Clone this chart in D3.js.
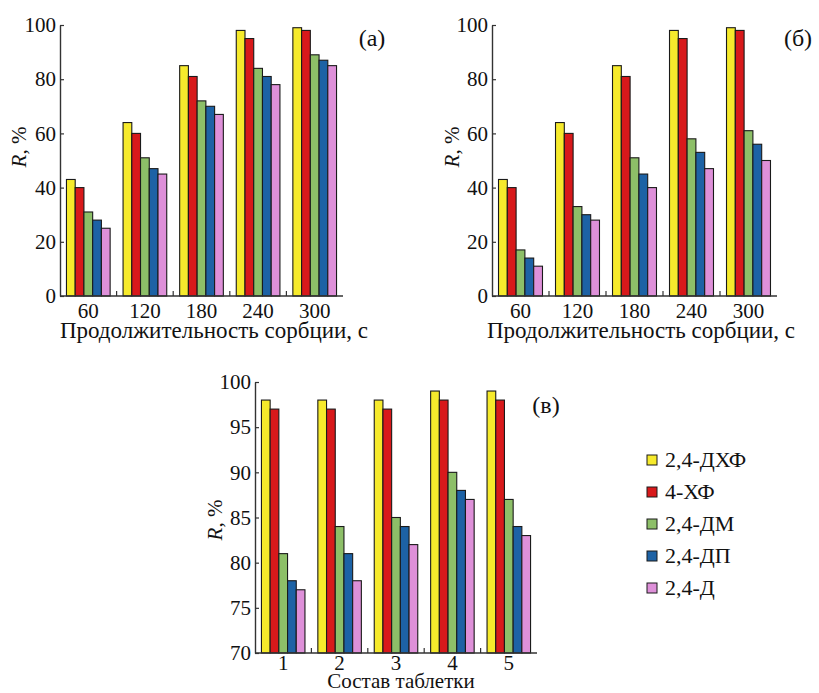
<!DOCTYPE html>
<html>
<head>
<meta charset="utf-8">
<script src="https://cdn.jsdelivr.net/npm/d3@7"></script>
<style>
  html, body { margin: 0; padding: 0; background: #fff; }
  svg { display: block; }
  svg text { font-family: "Liberation Serif", "Tinos", "Times New Roman", Times, "DejaVu Serif", serif !important; fill: #111; }
</style>
</head>
<body>
<svg id="chart" width="819" height="693"></svg>
<script>
// Series (compounds) and their colours
const series = ["2,4-ДХФ", "4-ХФ", "2,4-ДМ", "2,4-ДП", "2,4-Д"];
const colors = ["#f6ea2c", "#d8191b", "#8dbf68", "#1d62a5", "#de90d9"];

// Panels (а) and (б): sorption time, s
const times = ["60", "120", "180", "240", "300"];
const panelA = [
  [43, 64, 85, 98, 99],
  [40, 60, 81, 95, 98],
  [31, 51, 72, 84, 89],
  [28, 47, 70, 81, 87],
  [25, 45, 67, 78, 85]
];
const panelB = [
  [43, 64, 85, 98, 99],
  [40, 60, 81, 95, 98],
  [17, 33, 51, 58, 61],
  [14, 30, 45, 53, 56],
  [11, 28, 40, 47, 50]
];

// Panel (в): tablet composition
const tablets = ["1", "2", "3", "4", "5"];
const panelC = [
  [98, 98, 98, 99, 99],
  [97, 97, 97, 98, 98],
  [81, 84, 85, 90, 87],
  [78, 81, 84, 88, 84],
  [77, 78, 82, 87, 83]
];

const ticksAB = [0, 20, 40, 60, 80, 100];
const ticksC = [70, 75, 80, 85, 90, 95, 100];

const svg = d3.select("#chart");

function panel(opt) {
  const g = svg.append("g");
  const x = d3.scaleBand().domain(opt.cats).range([opt.x0, opt.x1]);
  const xs = d3.scaleBand().domain(series).range([0, x.bandwidth()]).paddingOuter(0.74);
  const y = d3.scaleLinear().domain(opt.domain).range([opt.yb, opt.yt]);

  // bars
  series.forEach((s, si) => {
    g.append("g").selectAll("rect")
      .data(opt.values[si])
      .join("rect")
      .attr("x", (d, i) => x(opt.cats[i]) + xs(s))
      .attr("y", d => y(d))
      .attr("width", xs.bandwidth())
      .attr("height", d => y(opt.domain[0]) - y(d))
      .attr("fill", colors[si])
      .attr("stroke", "#1a1a1a")
      .attr("stroke-width", 1.1);
  });

  // y axis with inward ticks
  const ya = g.append("g").attr("transform", `translate(${opt.x0},0)`)
    .call(d3.axisRight(y).tickValues(opt.ticks).tickSize(4).tickSizeOuter(0).tickFormat(d3.format("d")));
  ya.attr("font-family", null).attr("font-size", null);
  ya.select(".domain").attr("stroke", "#333").attr("stroke-width", 1.4);
  ya.selectAll(".tick line").attr("stroke", "#333").attr("stroke-width", 1.2);
  ya.selectAll(".tick text")
    .attr("x", -4).attr("text-anchor", "end")
    .style("font-size", "21px").attr("fill", "#111");

  // x axis with tick marks at group boundaries, pointing up
  const bounds = opt.cats.slice(1).map(c => x(c));
  const xa = g.append("g").attr("transform", `translate(0,${opt.yb})`);
  xa.append("line").attr("x1", opt.x0).attr("x2", opt.x1)
    .attr("stroke", "#333").attr("stroke-width", 1.4);
  xa.selectAll("line.tk").data(bounds).join("line").attr("class", "tk")
    .attr("x1", d => d).attr("x2", d => d).attr("y1", 0).attr("y2", -5)
    .attr("stroke", "#333").attr("stroke-width", 1.2);
  xa.selectAll("text").data(opt.cats).join("text")
    .attr("x", d => x(d) + x.bandwidth() / 2)
    .attr("y", opt.tickBase - opt.yb)
    .attr("text-anchor", "middle")
    .style("font-size", "21px")
    .text(d => d);

  // axis titles
  g.append("text")
    .attr("x", opt.titleX).attr("y", opt.titleY)
    .attr("text-anchor", "middle")
    .style("font-size", opt.titleSize)
    .text(opt.xTitle);

  const yl = g.append("text")
    .attr("transform", `translate(${opt.yLabX},${opt.yLabY}) rotate(-90)`)
    .attr("text-anchor", "middle")
    .style("font-size", "21px");
  yl.append("tspan").style("font-style", "italic").text("R");
  yl.append("tspan").text(", %");

  // panel letter
  g.append("text")
    .attr("x", opt.letterX).attr("y", opt.letterY)
    .attr("text-anchor", "middle")
    .style("font-size", "24px")
    .text(opt.letter);
}

panel({
  cats: times, values: panelA, domain: [0, 100], ticks: ticksAB,
  x0: 60, x1: 343, yt: 25, yb: 296, tickBase: 318,
  xTitle: "Продолжительность сорбции, с", titleX: 214, titleY: 338, titleSize: "23px",
  yLabX: 26, yLabY: 147, letter: "(а)", letterX: 372, letterY: 46
});

panel({
  cats: times, values: panelB, domain: [0, 100], ticks: ticksAB,
  x0: 492, x1: 777, yt: 25, yb: 296, tickBase: 318,
  xTitle: "Продолжительность сорбции, с", titleX: 641, titleY: 338, titleSize: "23px",
  yLabX: 459, yLabY: 147, letter: "(б)", letterX: 798, letterY: 46
});

panel({
  cats: tablets, values: panelC, domain: [70, 100], ticks: ticksC,
  x0: 255, x1: 537, yt: 382, yb: 653, tickBase: 670,
  xTitle: "Состав таблетки", titleX: 401, titleY: 688, titleSize: "21px",
  yLabX: 222, yLabY: 520, letter: "(в)", letterX: 546, letterY: 413
});

// legend
const legend = svg.append("g");
const ly = d3.scalePoint().domain(series).range([460, 588]);
const items = legend.selectAll("g").data(series).join("g")
  .attr("transform", d => `translate(647,${ly(d)})`);
items.append("rect")
  .attr("x", 0).attr("y", -5).attr("width", 10).attr("height", 10)
  .attr("fill", (d, i) => colors[i]).attr("stroke", "#1a1a1a").attr("stroke-width", 1);
items.append("text")
  .attr("x", 18).attr("y", 7)
  .style("font-size", "22px")
  .text(d => d);
</script>
</body>
</html>
